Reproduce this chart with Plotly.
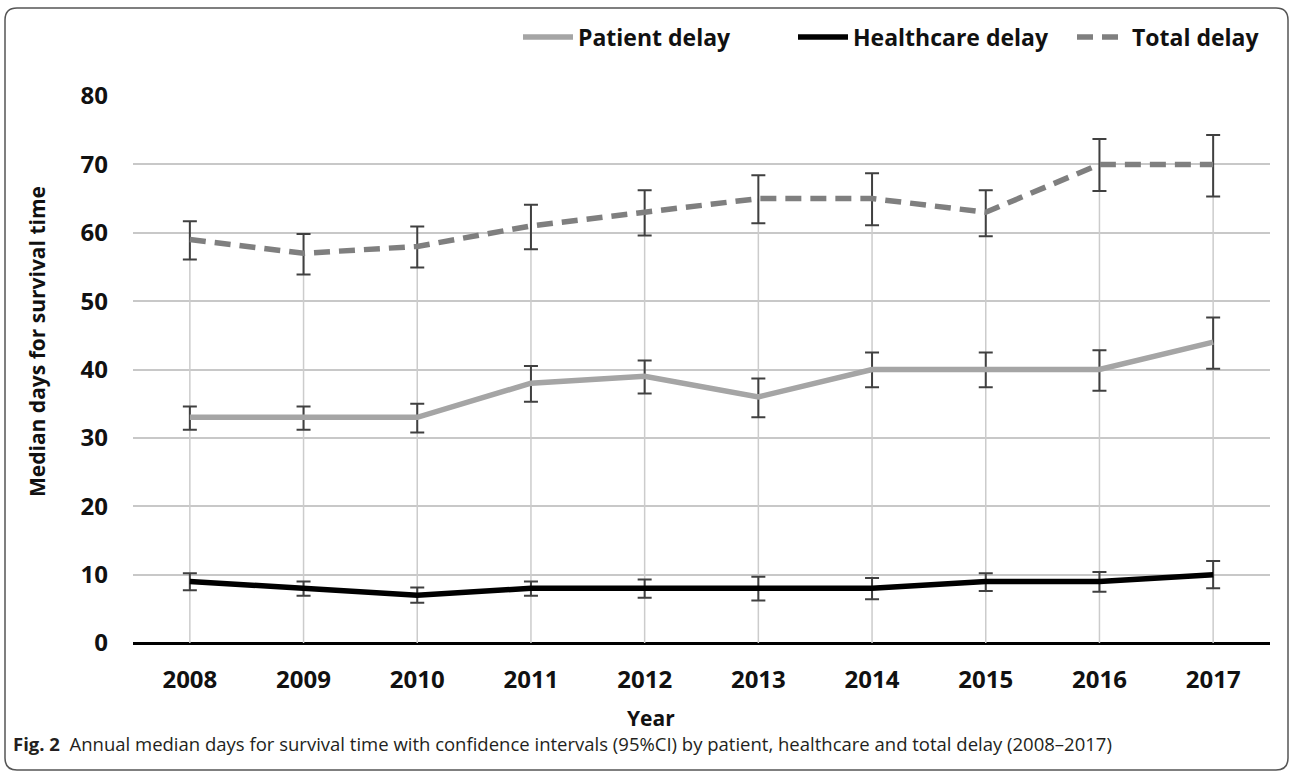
import plotly.graph_objects as go

years = ["2008", "2009", "2010", "2011", "2012", "2013", "2014", "2015", "2016", "2017"]

patient = [33, 33, 33, 38, 39, 36, 40, 40, 40, 44]
patient_lo = [31.2, 31.2, 30.8, 35.3, 36.5, 33.0, 37.4, 37.4, 36.9, 40.1]
patient_hi = [34.6, 34.6, 35.0, 40.5, 41.3, 38.7, 42.5, 42.5, 42.8, 47.6]

healthcare = [9, 8, 7, 8, 8, 8, 8, 9, 9, 10]
healthcare_lo = [7.7, 6.9, 5.9, 6.9, 6.6, 6.2, 6.4, 7.6, 7.5, 8.0]
healthcare_hi = [10.2, 9.0, 8.1, 9.0, 9.3, 9.7, 9.5, 10.2, 10.4, 12.0]

total = [59, 57, 58, 61, 63, 65, 65, 63, 70, 70]
total_lo = [56.1, 53.9, 54.9, 57.6, 59.6, 61.4, 61.1, 59.5, 66.1, 65.3]
total_hi = [61.7, 59.8, 60.9, 64.1, 66.2, 68.4, 68.7, 66.2, 73.7, 74.3]

W, H = 1290, 772
L, R, T, B = 133, 20, 96, 129
PW, PH = W - L - R, H - T - B


def px(x):
    return (x - L) / PW


def py(y):
    return (H - B - y) / PH


FONT = "Open Sans"
ERR = "#404040"

fig = go.Figure()

# drop lines from the highest series down to the axis
dx, dy = [], []
for yr, v in zip(years, total):
    dx += [yr, yr, None]
    dy += [0, v, None]
fig.add_trace(go.Scatter(x=dx, y=dy, mode="lines", line=dict(color="#cccccc", width=1.5),
                         showlegend=False, hoverinfo="skip"))


def err(vals, lo, hi):
    return dict(type="data", symmetric=False,
                array=[h - v for v, h in zip(vals, hi)],
                arrayminus=[v - l for v, l in zip(vals, lo)],
                color=ERR, thickness=2, width=7)


fig.add_trace(go.Scatter(x=years, y=patient, name="Patient delay", mode="lines",
                         line=dict(color="#a5a5a5", width=5.5), legend="legend",
                         error_y=err(patient, patient_lo, patient_hi)))
fig.add_trace(go.Scatter(x=years, y=healthcare, name="Healthcare delay", mode="lines",
                         line=dict(color="#000000", width=5.5), legend="legend2",
                         error_y=err(healthcare, healthcare_lo, healthcare_hi)))
fig.add_trace(go.Scatter(x=years, y=total, name="Total delay", mode="lines",
                         line=dict(color="#7f7f7f", width=5.5, dash="16px,9px"), legend="legend3",
                         error_y=err(total, total_lo, total_hi)))

# outer rounded frame
l, r, t, b, rad = 5, 1288, 8, 770, 12
path = (f"M {px(l)},{py(t + rad)} Q {px(l)},{py(t)} {px(l + rad)},{py(t)} "
        f"L {px(r - rad)},{py(t)} Q {px(r)},{py(t)} {px(r)},{py(t + rad)} "
        f"L {px(r)},{py(b - rad)} Q {px(r)},{py(b)} {px(r - rad)},{py(b)} "
        f"L {px(l + rad)},{py(b)} Q {px(l)},{py(b)} {px(l)},{py(b - rad)} Z")
fig.add_shape(type="path", path=path, xref="paper", yref="paper",
              line=dict(color="#555555", width=1.5), layer="below")

fig.add_annotation(text="<b>Median days for survival time</b>", textangle=-90,
                   x=px(37), y=py(342), xref="paper", yref="paper", showarrow=False,
                   font=dict(family=FONT, size=21, color="#111111"),
                   xanchor="center", yanchor="middle")
fig.add_annotation(text="<b>Year</b>", x=px(651), y=py(718), xref="paper", yref="paper",
                   showarrow=False, font=dict(family=FONT, size=21, color="#111111"),
                   xanchor="center", yanchor="middle")
fig.add_annotation(text="<b>Fig. 2</b>  Annual median days for survival time with confidence intervals (95%CI) by patient, healthcare and total delay (2008–2017)",
                   x=px(11), y=py(743), xref="paper", yref="paper", showarrow=False,
                   font=dict(family=FONT, size=18.5, color="#231f20"),
                   xanchor="left", yanchor="middle")


def leg(xpix):
    return dict(orientation="h", x=px(xpix), y=py(37), xanchor="left", yanchor="middle",
                font=dict(family=FONT, size=23, color="#111111", weight="bold"),
                bgcolor="rgba(0,0,0,0)", itemwidth=50)


fig.update_layout(
    width=W, height=H,
    margin=dict(l=L, r=R, t=T, b=B, autoexpand=False),
    paper_bgcolor="white", plot_bgcolor="white",
    font=dict(family=FONT, color="#111111"),
    legend=leg(518), legend2=leg(793), legend3=leg(1072),
    xaxis=dict(type="category", range=[-0.5, 9.5], showgrid=False, zeroline=False,
               showline=False, ticks="", ticklabelstandoff=20,
               tickfont=dict(family=FONT, size=24, color="#111111", weight="bold")),
    yaxis=dict(range=[0, 80], dtick=10, showgrid=True, gridcolor="#c8c8c8", gridwidth=1.5,
               zeroline=True, zerolinecolor="#000000", zerolinewidth=2.5,
               showline=False, ticks="", ticklabelstandoff=24,
               tickfont=dict(family=FONT, size=24, color="#111111", weight="bold")),
    showlegend=True,
)

fig.write_html("out.html", config={"displayModeBar": False},
               post_script="document.body.style.margin='0';")
